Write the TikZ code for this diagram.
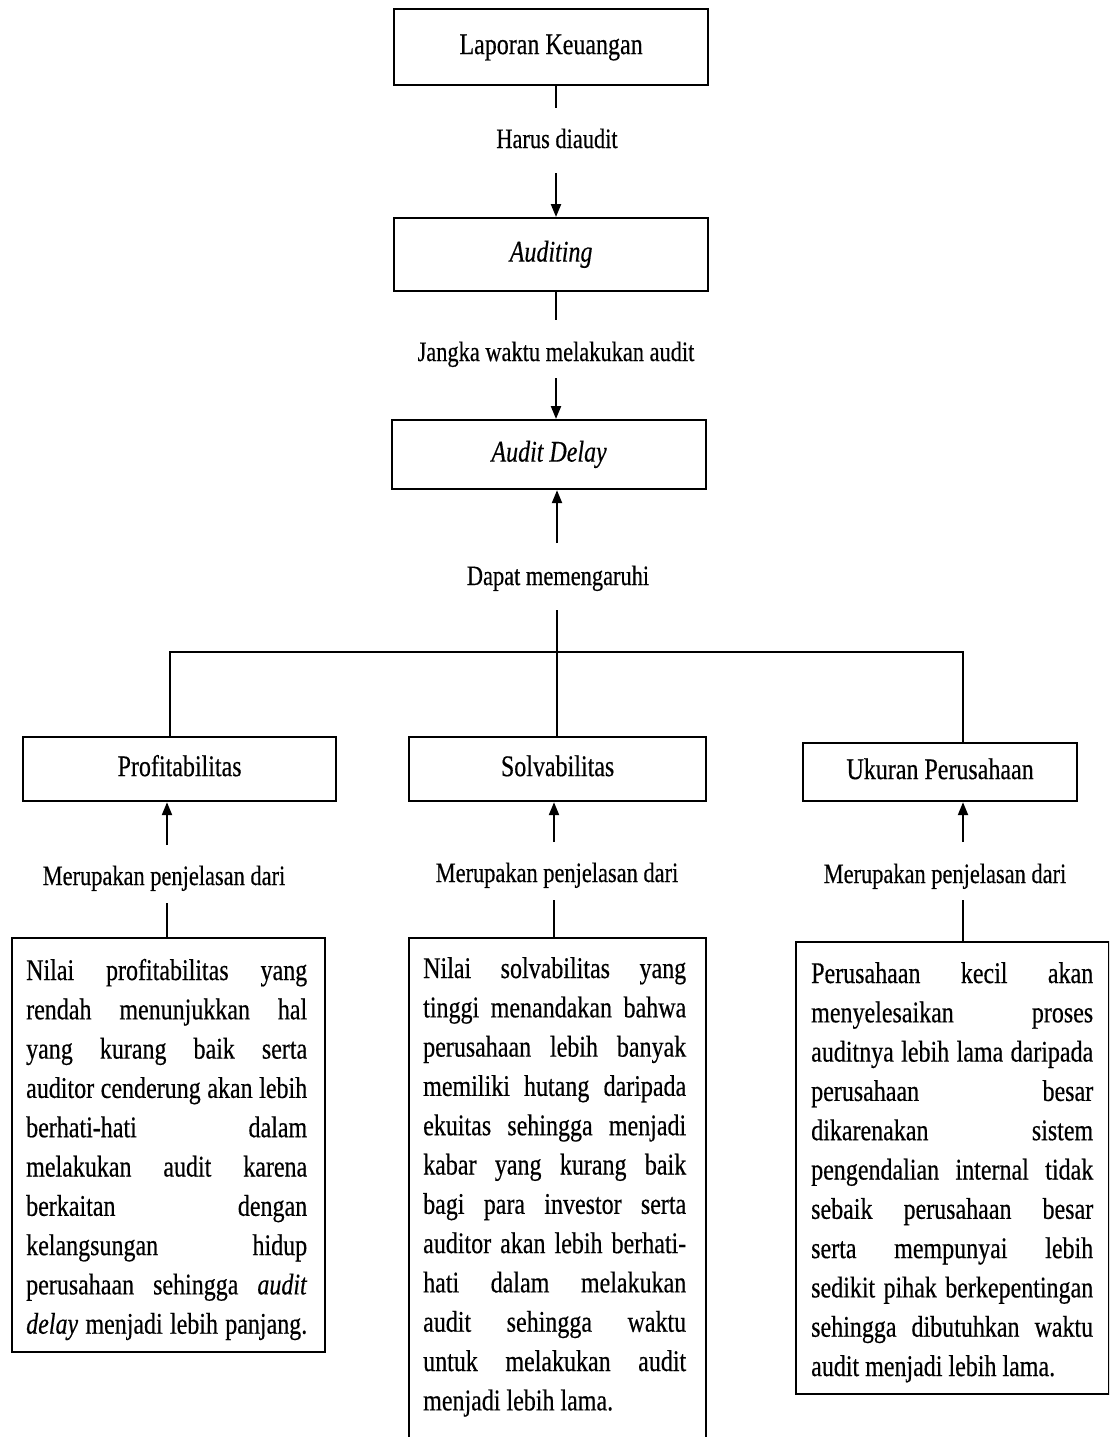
\documentclass[tikz,border=0pt]{standalone}
\usepackage{fontspec}
\setmainfont{Liberation Serif}[FakeStretch=0.8,FakeBold=0.4]
\usetikzlibrary{arrows.meta}
\newcommand\jl[1]{\hbox to\linewidth{#1}}
\newcommand\nl[1]{\hbox{#1}}
\newcommand\bodytext[2]{\begin{minipage}[t]{#1}\fontsize{30}{39.3}\selectfont #2\end{minipage}}
\begin{document}
\begin{tikzpicture}[x=1pt,y=-1pt,
  box/.style={draw, line width=2.2pt, inner sep=0pt, anchor=north west},
  title/.style={font=\fontsize{30}{36}\selectfont, text height=20.5pt, text depth=6.5pt},
  lbl/.style={font=\fontsize{28}{34}\selectfont, inner sep=0pt, anchor=base},
  conn/.style={line width=2.2pt},
  arr/.style={conn, -{Triangle[length=13pt,width=10pt]}},
  body/.style={inner sep=0pt, anchor=base west}
]
\fill[white] (0,0) rectangle (1109,1437);
\useasboundingbox (0,0) rectangle (1109,1437);
\begin{scope}
\clip (0,0) rectangle (1109,1437);

% top chain
\node[box, title, minimum width=314pt, minimum height=76pt] (lk) at (393,8) {Laporan Keuangan};
\node[box, title, minimum width=314pt, minimum height=73pt] (aud) at (393,217) {\itshape Auditing};
\node[box, title, minimum width=314pt, minimum height=69pt] (ad) at (391,419) {\itshape Audit Delay};

\coordinate (x1) at (556,108);
\draw[conn] (x1 |- lk.south) -- (x1);
\node[lbl] (l1) at (557,148) {Harus diaudit};
\coordinate (x2) at (556,173);
\draw[arr] (x2) -- (x2 |- aud.north);

\coordinate (x3) at (556,320);
\draw[conn] (x3 |- aud.south) -- (x3);
\node[lbl] (l2) at (556,361) {Jangka waktu melakukan audit};
\coordinate (x4) at (556,378);
\draw[arr] (x4) -- (x4 |- ad.north);

\coordinate (x5) at (557,543);
\draw[arr] (x5) -- (x5 |- ad.south);
\node[lbl] (l3) at (558,585) {Dapat memengaruhi};
\coordinate (x6) at (557,610);
\coordinate (hub) at (557,652);
\draw[conn] (x6) -- (hub);

% three factors
\node[box, title, minimum width=313pt, minimum height=64pt] (prof) at (22,736) {Profitabilitas};
\node[box, title, minimum width=297pt, minimum height=64pt] (solv) at (408,736) {Solvabilitas};
\node[box, title, minimum width=274pt, minimum height=58pt] (uk) at (802,742) {Ukuran Perusahaan};

\coordinate (hl) at (170,652);
\coordinate (hr) at (963,652);
\draw[conn] (hl |- prof.north) -- (hl) -- (hr) -- (hr |- uk.north);
\draw[conn] (hub) -- (hub |- solv.north);

% lower boxes
\node[box, minimum width=313pt, minimum height=414pt] (bl) at (11,937) {};
\node[box, minimum width=297pt, minimum height=530pt] (bm) at (408,937) {};
\node[box, minimum width=313pt, minimum height=452pt] (br) at (795,941) {};

\coordinate (p1) at (167,845);
\draw[arr] (p1) -- (p1 |- prof.south);
\node[lbl] (m1) at (164,885) {Merupakan penjelasan dari};
\coordinate (p2) at (167,903);
\draw[conn] (p2) -- (p2 |- bl.north);

\coordinate (s1) at (554,842);
\draw[arr] (s1) -- (s1 |- solv.south);
\node[lbl] (m2) at (557,882) {Merupakan penjelasan dari};
\coordinate (s2) at (554,900);
\draw[conn] (s2) -- (s2 |- bm.north);

\coordinate (u1) at (963,842);
\draw[arr] (u1) -- (u1 |- uk.south);
\node[lbl] (m3) at (945,883) {Merupakan penjelasan dari};
\coordinate (u2) at (963,900);
\draw[conn] (u2) -- (u2 |- br.north);

% body texts
\node[body] (tl) at (26,980) {\bodytext{281pt}{%
\jl{Nilai profitabilitas yang}
\jl{rendah menunjukkan hal}
\jl{yang kurang baik serta}
\jl{auditor cenderung akan lebih}
\jl{berhati-hati dalam}
\jl{melakukan audit karena}
\jl{berkaitan dengan}
\jl{kelangsungan hidup}
\jl{perusahaan sehingga \textit{audit}}
\jl{\textit{delay} menjadi lebih panjang.}}};

\node[body] (tm) at (423,978) {\bodytext{263pt}{%
\jl{Nilai solvabilitas yang}
\jl{tinggi menandakan bahwa}
\jl{perusahaan lebih banyak}
\jl{memiliki hutang daripada}
\jl{ekuitas sehingga menjadi}
\jl{kabar yang kurang baik}
\jl{bagi para investor serta}
\jl{auditor akan lebih berhati-}
\jl{hati dalam melakukan}
\jl{audit sehingga waktu}
\jl{untuk melakukan audit}
\nl{menjadi lebih lama.}}};

\node[body] (tr) at (811,983) {\bodytext{282pt}{%
\jl{Perusahaan kecil akan}
\jl{menyelesaikan proses}
\jl{auditnya lebih lama daripada}
\jl{perusahaan besar}
\jl{dikarenakan sistem}
\jl{pengendalian internal tidak}
\jl{sebaik perusahaan besar}
\jl{serta mempunyai lebih}
\jl{sedikit pihak berkepentingan}
\jl{sehingga dibutuhkan waktu}
\nl{audit menjadi lebih lama.}}};
\end{scope}
\end{tikzpicture}
\end{document}
